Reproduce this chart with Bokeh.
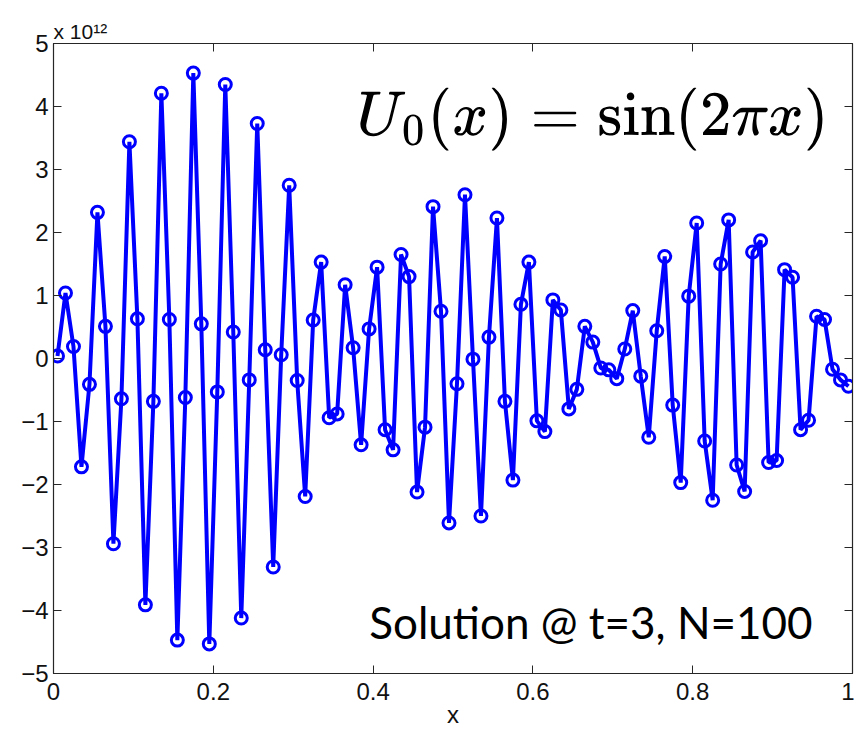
from bokeh.plotting import figure
from bokeh.models import (Label, LinearAxis, FixedTicker, Range1d, TeX,
                          CustomJSTickFormatter)
from bokeh.embed import file_html
from bokeh.resources import INLINE

# grid: cell centres of N=100 cells on [0, 1]
n_cells = 100
x_grid = [(i + 0.5) / n_cells for i in range(n_cells)]

# solution values, in units of 1e12
u_vals = [
    0.04, 1.04, 0.19, -1.72, -0.41, 2.32, 0.51, -2.94, -0.64, 3.44,
    0.63, -3.91, -0.68, 4.21, 0.62, -4.47, -0.62, 4.53, 0.55, -4.53,
    -0.53, 4.35, 0.42, -4.12, -0.34, 3.73, 0.14, -3.31, 0.06, 2.75,
    -0.35, -2.19, 0.61, 1.53, -0.94, -0.88, 1.17, 0.17, -1.37, 0.47,
    1.45, -1.13, -1.45, 1.65, 1.30, -2.12, -1.09, 2.41, 0.75, -2.61,
    -0.40, 2.60, -0.01, -2.50, 0.34, 2.23, -0.68, -1.93, 0.86, 1.53,
    -0.99, -1.16, 0.93, 0.77, -0.80, -0.49, 0.51, 0.26, -0.15, -0.18,
    -0.32, 0.15, 0.76, -0.28, -1.25, 0.44, 1.62, -0.74, -1.97, 0.99,
    2.15, -1.31, -2.25, 1.50, 2.20, -1.69, -2.11, 1.69, 1.87, -1.65,
    -1.62, 1.41, 1.29, -1.13, -0.98, 0.67, 0.62, -0.17, -0.34, -0.44,
]

x_ticks = [0, 0.2, 0.4, 0.6, 0.8, 1]
y_ticks = [-5, -4, -3, -2, -1, 0, 1, 2, 3, 4, 5]

FONT = "Liberation Sans"
AXIS_COLOR = "#262626"

p = figure(width=854, height=731, x_range=Range1d(0, 1), y_range=Range1d(-5, 5),
           output_backend="svg", toolbar_location=None,
           min_border_left=53, min_border_right=2, min_border_top=43,
           min_border_bottom=58)
p.grid.visible = False
p.outline_line_color = AXIS_COLOR
p.outline_line_width = 1.2

# exponent of the y axis, shown as the title at the top left
p.title.text = "x 10\u00b9\u00b2"
p.title.align = "left"
p.title.offset = 0
p.title.standoff = 2
p.title.text_font = FONT
p.title.text_font_size = "21px"
p.title.text_font_style = "normal"
p.title.text_color = "#111111"

fmt = CustomJSTickFormatter(code="return tick.toString().replace('-', '\u2212');")

for ax, ticks in ((p.xaxis[0], x_ticks), (p.yaxis[0], y_ticks)):
    ax.ticker = FixedTicker(ticks=ticks)
    ax.formatter = fmt
    ax.major_tick_in = 8
    ax.major_tick_out = 0
    ax.minor_tick_line_color = None
    ax.axis_line_color = AXIS_COLOR
    ax.major_tick_line_color = AXIS_COLOR
    ax.major_label_text_font = FONT
    ax.major_label_text_font_size = "24px"
    ax.major_label_text_color = "#111111"

p.xaxis[0].major_label_standoff = 9
p.yaxis[0].major_label_standoff = 5
p.xaxis[0].axis_label = "x"
p.xaxis[0].axis_label_text_font = FONT
p.xaxis[0].axis_label_text_font_style = "normal"
p.xaxis[0].axis_label_text_font_size = "24px"
p.xaxis[0].axis_label_text_color = "#111111"
p.xaxis[0].axis_label_standoff = -2

for loc, ticks in (("above", x_ticks), ("right", y_ticks)):
    ax = LinearAxis(ticker=FixedTicker(ticks=ticks),
                    major_label_text_font_size="1px",
                    major_label_text_color=None, major_label_standoff=0,
                    major_tick_in=8, major_tick_out=0,
                    minor_tick_line_color=None,
                    axis_line_color=AXIS_COLOR, major_tick_line_color=AXIS_COLOR)
    p.add_layout(ax, loc)

p.line(x_grid, u_vals, line_color="#0000ff", line_width=4)
p.scatter(x_grid, u_vals, marker="circle", size=12, fill_color=None,
          line_color="#0000ff", line_width=3)

# formula
p.add_layout(Label(x=0.97, y=3.8, text=TeX(text=r"U_0(x) = \sin(2\pi x)"),
                   text_font_size="54px", text_color="black",
                   text_align="right", text_baseline="middle"))

# annotation
p.add_layout(Label(x=0.95, y=-4.19, text="Solution @ t=3, N=100",
                   text_font="Lato", text_font_size="44px", text_color="black",
                   text_align="right", text_baseline="alphabetic"))

open("out.html", "w").write(file_html(p, INLINE))
